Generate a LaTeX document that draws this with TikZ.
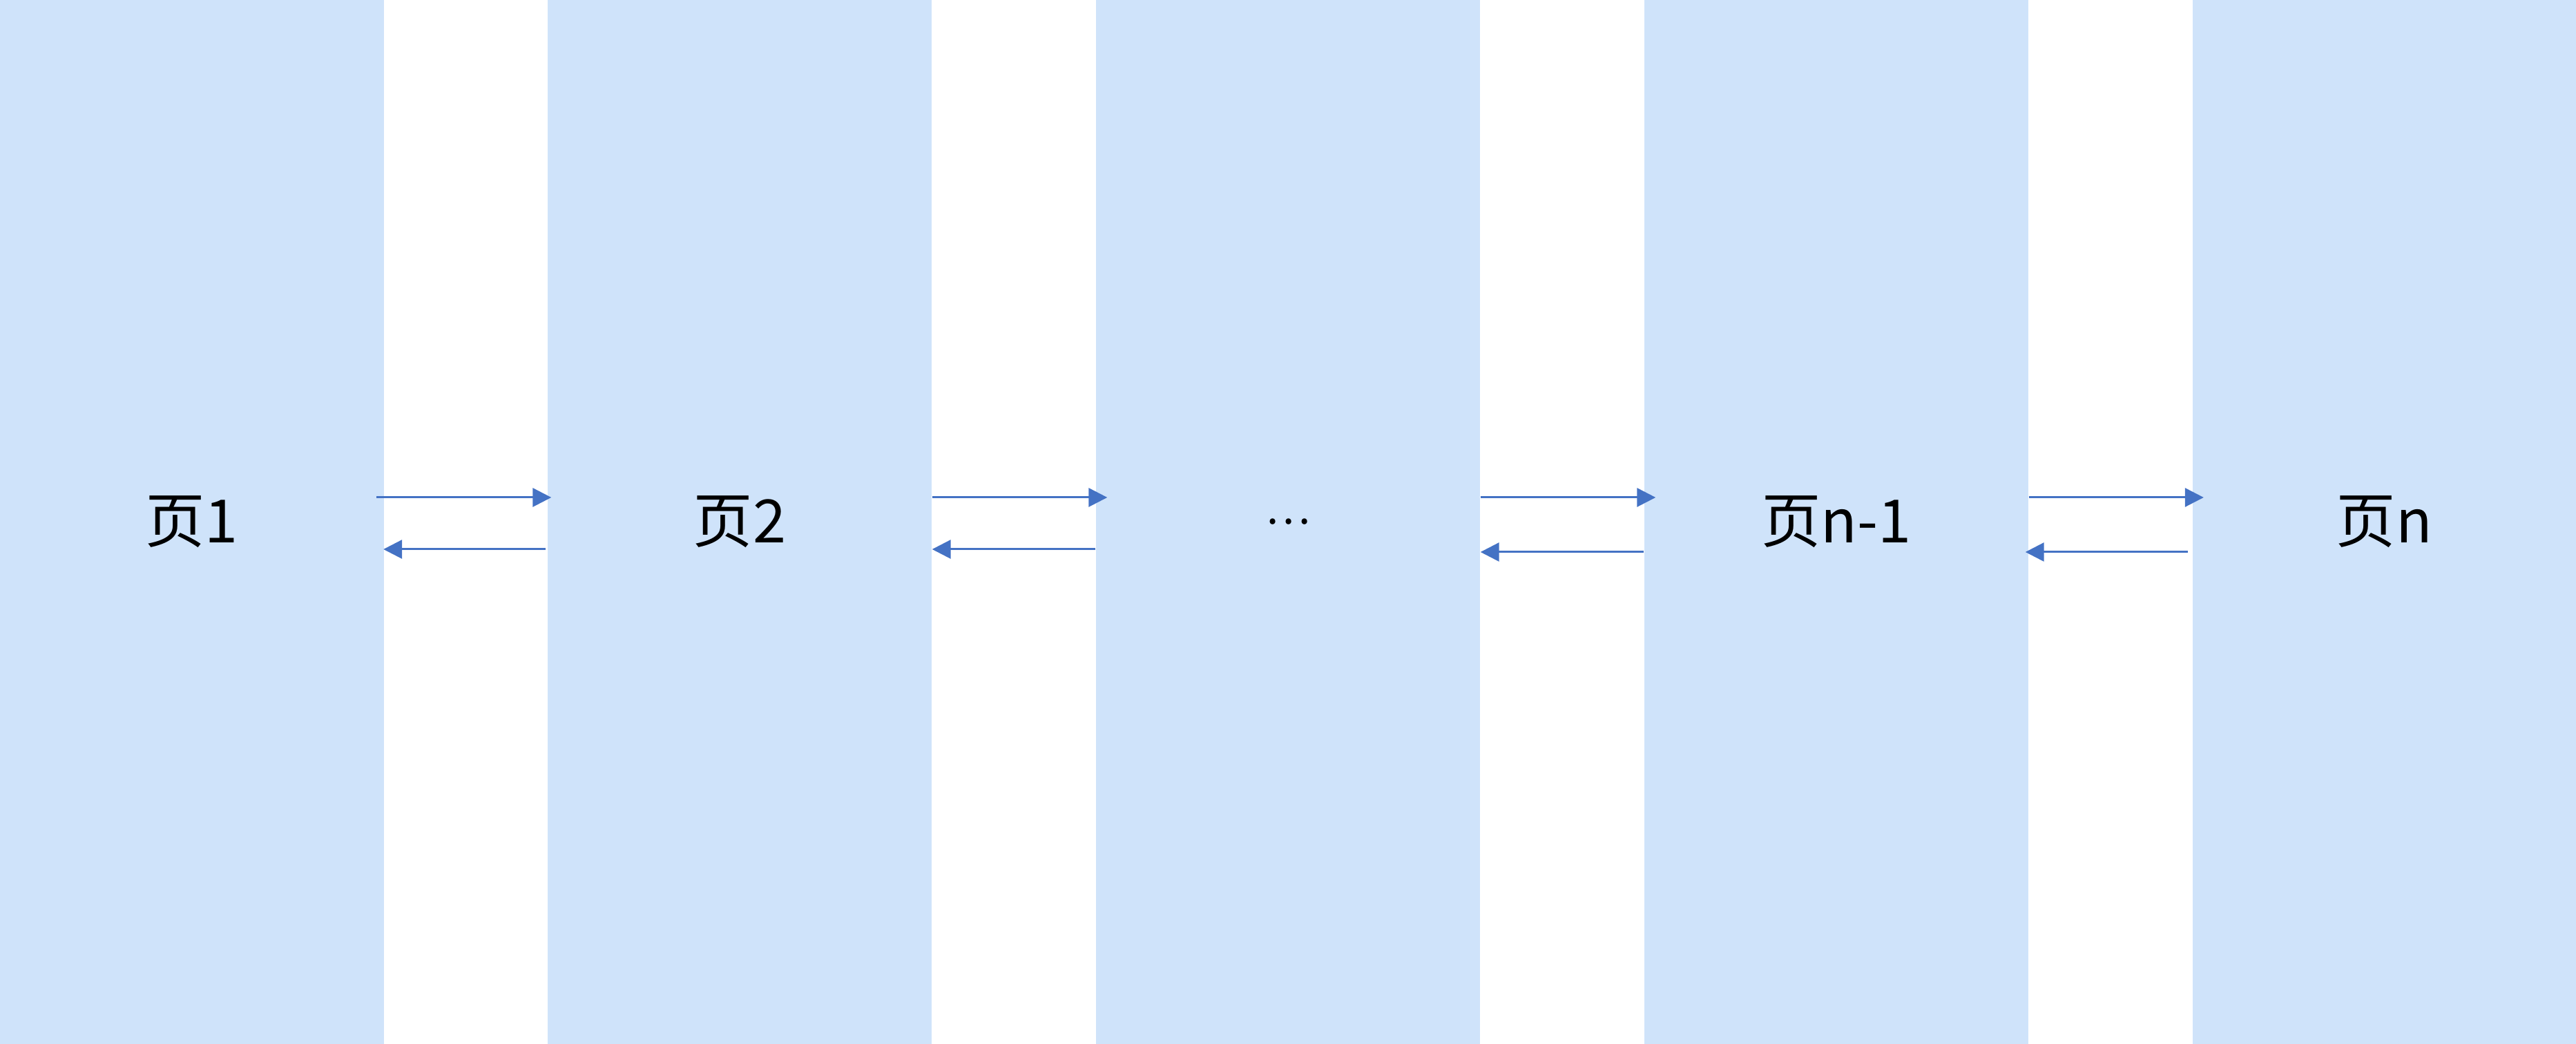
\documentclass[tikz,border=0pt]{standalone}
\usepackage{fontspec}
\newfontfamily\cjk{Noto Sans CJK SC}
\usetikzlibrary{arrows.meta,calc}
\definecolor{pagefill}{RGB}{207,227,250}
\definecolor{arrowblue}{RGB}{68,114,196}
\begin{document}
\begin{tikzpicture}[
  pagecol/.style={fill=pagefill,draw=none,minimum width=5.56cm,minimum height=15.11cm,inner sep=0pt,font=\cjk\fontsize{24.6}{29}\selectfont},
  arr/.style={draw=arrowblue,line width=0.03cm,-{Triangle[length=0.27cm,width=0.27cm]}}
]
\useasboundingbox (0,0) rectangle (37.30,15.11);
\node[pagecol] (p1) at (2.775,7.555) {页1};
\node[pagecol] (p2) at (10.71,7.555) {页2};
\node[pagecol] (p3) at (18.65,7.555) {\fontsize{17.5}{21}\selectfont …};
\node[pagecol] (p4) at (26.59,7.555) {页n-1};
\node[pagecol] (p5) at (34.525,7.555) {页n};
% gap 1
\draw[arr] ($(p1.east)+(-0.11,0.355)$) -- ($(p2.west)+(0.06,0.355)$);
\draw[arr] ($(p2.west)+(-0.02,-0.395)$) -- ($(p1.east)+(-0.01,-0.395)$);
% gap 2
\draw[arr] ($(p2.east)+(0,0.355)$) -- ($(p3.west)+(0.17,0.355)$);
\draw[arr] ($(p3.west)+(0,-0.395)$) -- ($(p2.east)+(0,-0.395)$);
% gap 3
\draw[arr] ($(p3.east)+(0,0.355)$) -- ($(p4.west)+(0.17,0.355)$);
\draw[arr] ($(p4.west)+(0,-0.435)$) -- ($(p3.east)+(0,-0.435)$);
% gap 4
\draw[arr] ($(p4.east)+(0,0.355)$) -- ($(p5.west)+(0.17,0.355)$);
\draw[arr] ($(p5.west)+(-0.06,-0.435)$) -- ($(p4.east)+(-0.05,-0.435)$);
\end{tikzpicture}
\end{document}
